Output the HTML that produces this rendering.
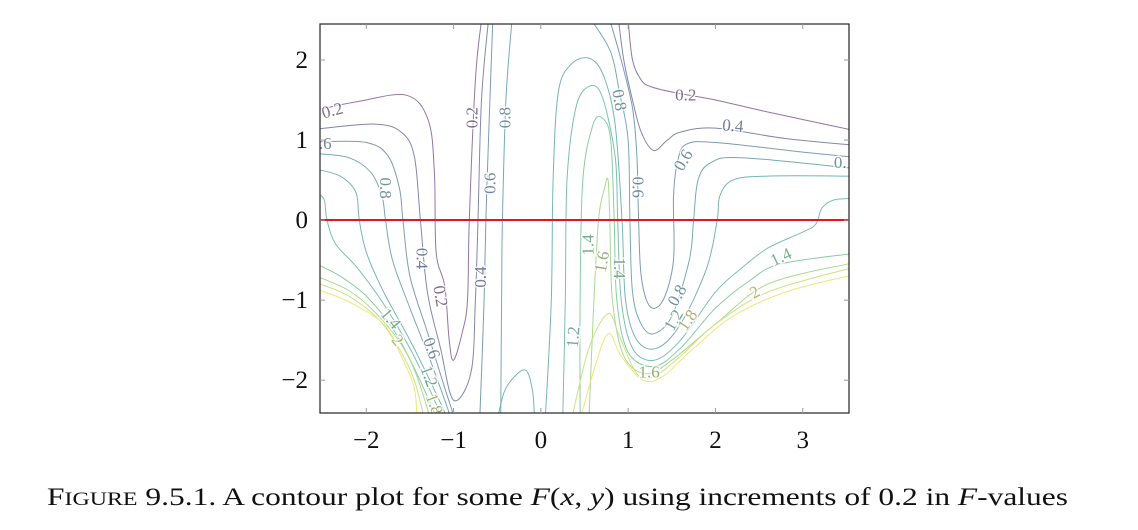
<!DOCTYPE html>
<html><head><meta charset="utf-8">
<style>
html,body{margin:0;padding:0;background:#fff;width:1138px;height:530px;overflow:hidden}
svg{display:block}
.tick{font-family:"Liberation Serif",serif;font-size:25px;fill:#111}
.lbl{font-family:"Liberation Serif",serif;font-size:17px;paint-order:stroke;stroke:#fff;stroke-width:3px;opacity:0.8}
.cap{font-family:"Liberation Serif",serif;font-size:25px;fill:#111}
</style></head>
<body>
<svg id="chart" width="1138" height="530">
<defs><clipPath id="clip"><rect x="320" y="24" width="529" height="389"/></clipPath></defs>
<g id="contours" clip-path="url(#clip)" opacity="0.75"></g>
<g id="labels" clip-path="url(#clip)"></g>
<line x1="320" y1="220" x2="849" y2="220" stroke="#e8141a" stroke-width="2"/>
<rect x="320" y="24" width="529" height="389" fill="none" stroke="#222" stroke-width="1.2"/>
<g id="axes"></g>
<text x="47" y="505" class="cap" textLength="1021" lengthAdjust="spacingAndGlyphs"><tspan>F</tspan><tspan font-size="19">IGURE</tspan> 9.5.1.  A contour plot for some <tspan font-style="italic">F</tspan>(<tspan font-style="italic">x</tspan>, <tspan font-style="italic">y</tspan>) using increments of 0.2 in <tspan font-style="italic">F</tspan>-values</text>
</svg>
<script>
const levels=[0.2,0.4,0.6,0.8,1.0,1.2,1.4,1.6,1.8,2.0];
const colors=['#6b4a86','#5a5f92','#517a9a','#4a8da0','#4a9c9a','#4fac94','#62bb85','#8ccc6e','#bcd85a','#e8e04c'];
const xTicks=[-2,-1,0,1,2,3];
const yTicks=[-2,-1,0,1,2];
// contour curves: [levelIndex, points]
const curves=[
[0,[[-2.55,1.38],[-2.1,1.48],[-1.54,1.56],[-1.29,1.25],[-1.22,0.6],[-1.2,-0.4],[-1.1,-0.83],[-1.05,-1.5],[-1.0,-1.75],[-0.9,-1.4],[-0.84,-1.0],[-0.82,0],[-0.75,1.75],[-0.68,2.5]]],
[1,[[-2.55,1.14],[-1.9,1.2],[-1.6,1.1],[-1.45,0.8],[-1.38,0],[-1.3,-0.9],[-1.15,-1.6],[-1.0,-2.25],[-0.8,-1.9],[-0.75,-1.0],[-0.72,0],[-0.68,1.5],[-0.6,2.5]]],
[2,[[-2.55,0.98],[-2.0,0.97],[-1.75,0.8],[-1.62,0.4],[-1.58,0],[-1.5,-0.7],[-1.3,-1.4],[-1.1,-2.1],[-0.98,-2.5]]],
[2,[[-0.7,-2.5],[-0.65,-1.0],[-0.63,0],[-0.6,1.0],[-0.55,2.5]]],
[3,[[-2.55,0.83],[-2.2,0.78],[-1.95,0.6],[-1.82,0.3],[-1.78,0],[-1.7,-0.5],[-1.5,-1.1],[-1.25,-1.8],[-1.02,-2.5]]],
[3,[[-0.46,-2.5],[-0.45,-1],[-0.44,0],[-0.4,1.5],[-0.33,2.5]]],
[4,[[-2.55,0.63],[-2.3,0.55],[-2.12,0.35],[-2.08,0],[-2.0,-0.4],[-1.8,-0.9],[-1.5,-1.5],[-1.25,-2.05],[-1.06,-2.5]]],
[5,[[-2.55,0.33],[-2.48,0.25],[-2.45,0],[-2.35,-0.3],[-2.1,-0.6],[-1.8,-1.05],[-1.5,-1.6],[-1.28,-2.1],[-1.12,-2.5]]],
[6,[[-2.55,-0.56],[-2.3,-0.7],[-2.0,-0.95],[-1.7,-1.35],[-1.45,-1.85],[-1.18,-2.5]]],
[7,[[-2.55,-0.71],[-2.2,-0.88],[-1.9,-1.15],[-1.6,-1.55],[-1.42,-1.95],[-1.26,-2.5]]],
[8,[[-2.55,-0.79],[-2.2,-0.95],[-1.85,-1.25],[-1.6,-1.65],[-1.45,-2.0],[-1.33,-2.5]]],
[9,[[-2.55,-0.87],[-2.2,-1.02],[-1.8,-1.3],[-1.6,-1.7],[-1.45,-2.1],[-1.42,-2.5]]],
[4,[[-0.5,-2.5],[-0.4,-2.1],[-0.19,-1.87],[-0.1,-2.1],[-0.07,-2.5]]],
[0,[[1.0,2.5],[1.05,2.0],[1.15,1.75],[1.25,1.67],[1.5,1.6],[2.0,1.5],[2.6,1.35],[3.55,1.13]]],
[1,[[0.89,2.5],[0.95,2.0],[1.05,1.5],[1.15,1.1],[1.29,0.87],[1.45,1.0],[1.6,1.1],[2.0,1.15],[2.8,1.02],[3.55,0.94]]],
[2,[[0.79,2.5],[0.92,2.0],[1.05,1.4],[1.1,0.8],[1.12,0],[1.15,-0.7],[1.25,-1.08],[1.4,-1.0],[1.52,-0.5],[1.52,0.3],[1.57,0.75],[1.67,0.95],[2.0,0.97],[3.0,0.85],[3.55,0.79]]],
[3,[[0.58,2.5],[0.8,2.1],[0.9,1.6],[1.0,1.0],[1.02,0],[1.05,-0.9],[1.15,-1.3],[1.29,-1.42],[1.5,-1.2],[1.7,-0.5],[1.75,0],[1.8,0.5],[1.95,0.72],[2.3,0.78],[3.55,0.65]]],
[4,[[0.05,-2.5],[0.12,-1],[0.14,0.5],[0.2,1.6],[0.35,1.95],[0.56,2.02],[0.72,1.8],[0.85,1.2],[0.93,0],[0.97,-1.0],[1.1,-1.5],[1.33,-1.6],[1.6,-1.3],[1.9,-0.6],[2.02,0],[2.05,0.3],[2.2,0.5],[2.6,0.55],[3.55,0.55]]],
[5,[[0.25,-2.5],[0.28,-1],[0.3,0.5],[0.4,1.4],[0.55,1.67],[0.7,1.55],[0.85,0.8],[0.88,0],[0.92,-1.0],[1.05,-1.6],[1.3,-1.75],[1.6,-1.5],[2.0,-0.9],[2.3,-0.6],[2.6,-0.35],[3.0,-0.15],[3.15,-0.05],[3.22,0.15],[3.35,0.25],[3.55,0.27]]],
[6,[[0.45,-2.5],[0.45,-1],[0.48,0.5],[0.6,1.2],[0.71,1.27],[0.8,1.0],[0.84,0],[0.87,-1.0],[1.0,-1.65],[1.29,-1.83],[1.6,-1.6],[2.0,-1.1],[2.4,-0.75],[2.74,-0.55],[3.55,-0.42]]],
[7,[[0.55,-2.5],[0.6,-1.2],[0.66,0],[0.73,0.4],[0.77,0.5],[0.79,0],[0.82,-1.0],[0.95,-1.7],[1.21,-1.92],[1.5,-1.75],[2.0,-1.3],[2.6,-0.8],[3.55,-0.54]]],
[8,[[0.35,-2.5],[0.55,-1.6],[0.77,-1.17],[0.9,-1.45],[1.1,-1.92],[1.3,-1.95],[1.6,-1.7],[2.0,-1.3],[2.6,-0.9],[3.55,-0.6]]],
[9,[[0.45,-2.5],[0.6,-1.9],[0.77,-1.42],[0.92,-1.7],[1.17,-2.0],[1.4,-1.95],[1.7,-1.65],[2.2,-1.2],[2.8,-0.9],[3.55,-0.69]]]
];
// contour labels
const labelTexts=['0.2','.6','0.8','0.4','0.2','0.2','0.8','0.6','0.4','1.4','2','0.6','1.2','1.8','0.2','0.4','0.6','0.','0.8','0.6','1.4','1.6','1.4','0.8','1.2','1.8','1.4','2','1.6','1.2'];
const labelX=[-2.39,-2.47,-1.78,-1.36,-1.15,-0.79,-0.41,-0.58,-0.69,-1.72,-1.64,-1.25,-1.28,-1.22,1.66,2.2,1.63,3.43,0.9,1.11,0.54,0.7,0.9,1.56,1.52,1.68,2.75,2.45,1.24,0.37];
const labelY=[1.37,0.96,0.4,-0.48,-0.95,1.28,1.28,0.46,-0.71,-1.23,-1.5,-1.6,-1.95,-2.3,1.56,1.18,0.75,0.72,1.5,0.41,-0.31,-0.52,-0.6,-0.94,-1.25,-1.25,-0.46,-0.9,-1.9,-1.46];
const labelRot=[-15,0,90,90,80,-90,-90,-90,-90,50,50,70,70,70,0,5,-60,0,80,90,-90,-80,90,-60,-60,-55,-25,-30,0,-85];
const labelLevel=[0,2,3,1,0,0,3,2,1,6,9,2,5,8,0,1,2,3,3,2,6,7,6,3,5,8,6,9,7,5];
const labelColors=['#5e4a70','#56607a','#506e80','#4e7a82','#4f8480','#53907c','#5b9a70','#7a9c5c','#9a9e50','#a8a048'];

const X0=-2.53,X1=3.53,Y0=-2.41,Y1=2.45,PL=320,PR=849,PT=24,PB=413;
const sx=x=>PL+(x-X0)/(X1-X0)*(PR-PL);
const sy=y=>PB-(y-Y0)/(Y1-Y0)*(PB-PT);
const NS='http://www.w3.org/2000/svg';
function smooth(pts){
  const p=pts.map(q=>[sx(q[0]),sy(q[1])]);
  let d='M'+p[0][0].toFixed(1)+','+p[0][1].toFixed(1);
  for(let i=0;i<p.length-1;i++){
    const a=p[Math.max(0,i-1)],b=p[i],c=p[i+1],e=p[Math.min(p.length-1,i+2)];
    const c1=[b[0]+(c[0]-a[0])/6,b[1]+(c[1]-a[1])/6],c2=[c[0]-(e[0]-b[0])/6,c[1]-(e[1]-b[1])/6];
    d+=' C'+c1.map(v=>v.toFixed(1))+' '+c2.map(v=>v.toFixed(1))+' '+c.map(v=>v.toFixed(1));
  }
  return d;
}
const gc=document.getElementById('contours');
curves.forEach(c=>{
  const el=document.createElementNS(NS,'path');
  el.setAttribute('d',smooth(c[1]));
  el.setAttribute('fill','none');
  el.setAttribute('stroke',colors[c[0]]);
  el.setAttribute('stroke-width','1');
  
  
  gc.appendChild(el);
});
const gl=document.getElementById('labels');
labelTexts.forEach((t,i)=>{
  const el=document.createElementNS(NS,'text');
  const x=sx(labelX[i]),y=sy(labelY[i]);
  el.setAttribute('x',x);el.setAttribute('y',y);
  el.setAttribute('class','lbl');
  el.setAttribute('text-anchor','middle');
  el.setAttribute('dominant-baseline','central');
  el.setAttribute('fill',labelColors[labelLevel[i]]);
  el.setAttribute('transform','rotate('+labelRot[i]+' '+x+' '+y+')');
  el.textContent=t;
  
  
  gl.appendChild(el);
});
const ga=document.getElementById('axes');
const fmt=v=>v<0?'\u2212'+Math.abs(v):String(v);
xTicks.forEach(v=>{
  const x=sx(v);
  [[PB,PB-5],[PT,PT+5]].forEach(s=>{
    const l=document.createElementNS(NS,'line');
    l.setAttribute('x1',x);l.setAttribute('x2',x);l.setAttribute('y1',s[0]);l.setAttribute('y2',s[1]);
    l.setAttribute('stroke','#999');l.setAttribute('stroke-width','1');
    
    
    ga.appendChild(l);
  });
  const t=document.createElementNS(NS,'text');
  t.setAttribute('x',x);t.setAttribute('y',448);t.setAttribute('text-anchor','middle');
  t.setAttribute('class','tick');t.textContent=fmt(v);
  
  
  ga.appendChild(t);
});
yTicks.forEach(v=>{
  const y=sy(v);
  [[PL,PL+5],[PR,PR-5]].forEach(s=>{
    const l=document.createElementNS(NS,'line');
    l.setAttribute('y1',y);l.setAttribute('y2',y);l.setAttribute('x1',s[0]);l.setAttribute('x2',s[1]);
    l.setAttribute('stroke','#999');l.setAttribute('stroke-width','1');
    
    
    ga.appendChild(l);
  });
  const t=document.createElementNS(NS,'text');
  t.setAttribute('x',308);t.setAttribute('y',y+8);t.setAttribute('text-anchor','end');
  t.setAttribute('class','tick');t.textContent=fmt(v);
  
  
  ga.appendChild(t);
});
</script>
</body></html>
